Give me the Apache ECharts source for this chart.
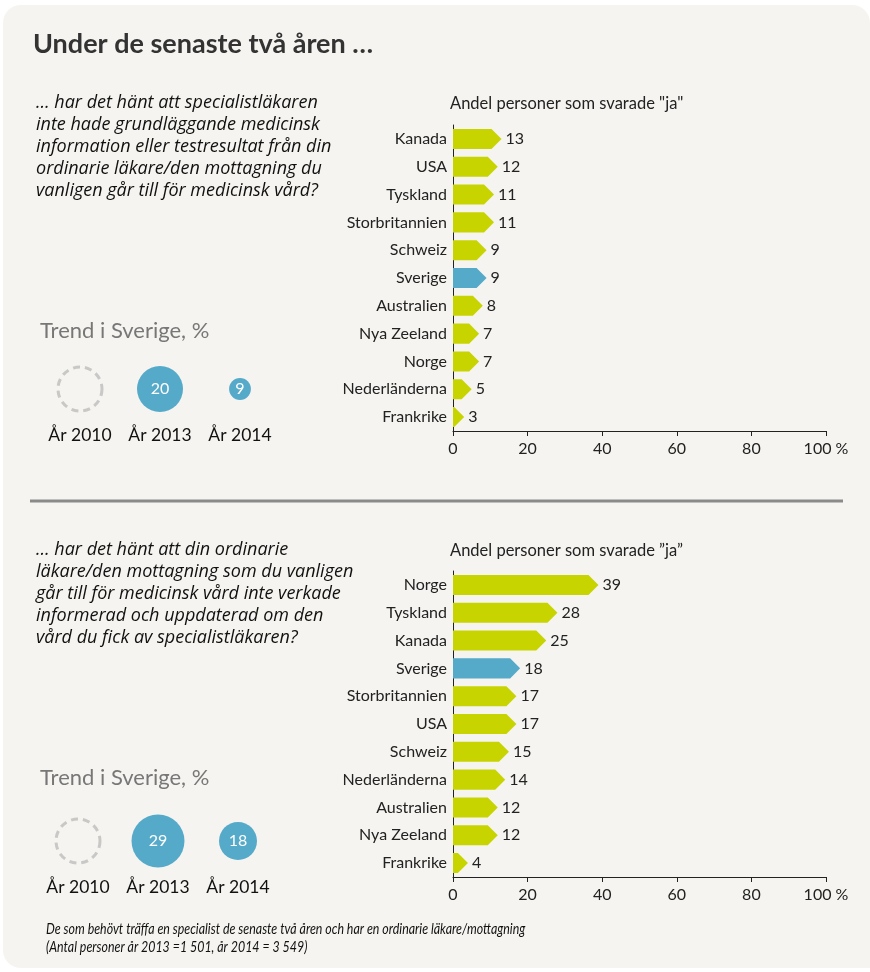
<!DOCTYPE html>
<html><head><meta charset="utf-8">
<script src="https://cdn.jsdelivr.net/npm/echarts@6/dist/echarts.min.js"></script>
<style>html,body{margin:0;padding:0;background:#fff}#c{width:870px;height:972px}</style>
</head><body><div id="c"></div>
<script>
const categories1 = ['Kanada','USA','Tyskland','Storbritannien','Schweiz','Sverige','Australien','Nya Zeeland','Norge','Nederländerna','Frankrike'];
const values1 = [13,12,11,11,9,9,8,7,7,5,3];
const categories2 = ['Norge','Tyskland','Kanada','Sverige','Storbritannien','USA','Schweiz','Nederländerna','Australien','Nya Zeeland','Frankrike'];
const values2 = [39,28,25,18,17,17,15,14,12,12,4];
const trendYears = ['År 2010','År 2013','År 2014'];
const trend1 = [null,20,9];
const trend2 = [null,29,18];
const xTicks = [0,20,40,60,80,100];

const FONT = 'Lato, "Noto Sans", sans-serif';
const GREEN = '#c8d400', BLUE = '#55a9c9';

function arrowRenderer(cats){
  return function(params, api){
    const v = api.value(0), idx = api.value(1);
    const p0 = api.coord([0, idx]);
    const p1 = api.coord([v, idx]);
    const band = api.size([0,1])[1];
    const h = band*0.72;
    const x0 = p0[0], xv = p1[0], y = p1[1];
    const head = Math.min(h/2, xv - x0);
    const color = cats[idx]==='Sverige' ? BLUE : GREEN;
    return {type:'group', children:[
      {type:'polygon', shape:{points:[[x0,y-h/2],[xv-head,y-h/2],[xv,y],[xv-head,y+h/2],[x0,y+h/2]]}, style:{fill:color}},
      {type:'text', style:{text:String(v), x:xv+4, y:y, verticalAlign:'middle', fontSize:16, fontFamily:FONT, fill:'#222'}}
    ]};
  };
}

function xAxisDef(gi){
  return {gridIndex:gi, type:'value', min:0, max:100, interval:20,
    axisLine:{show:true, lineStyle:{color:'#222', width:1}},
    axisTick:{show:true, length:5, lineStyle:{color:'#222'}},
    splitLine:{show:false},
    axisLabel:{fontSize:16, fontFamily:FONT, color:'#222', margin:10,
      formatter: v => v===100 ? '100 %' : String(v)}};
}
function yAxisDef(gi, cats){
  return {gridIndex:gi, type:'category', data:cats, inverse:true,
    axisLine:{show:true, lineStyle:{color:'#222'}}, axisTick:{show:false},
    axisLabel:{fontSize:16, fontFamily:FONT, color:'#222', margin:6, interval:0}};
}
function trendX(gi){
  return {gridIndex:gi, type:'category', data:trendYears, boundaryGap:true,
    axisLine:{show:false}, axisTick:{show:false},
    axisLabel:{fontSize:17.5, fontFamily:FONT, color:'#111', margin:8, interval:0, hideOverlap:false}};
}
function trendY(gi){
  return {gridIndex:gi, type:'value', min:0, max:1, show:false};
}
function trendSeries(gi, vals, a, b){
  return [
    {type:'scatter', xAxisIndex:gi, yAxisIndex:gi, silent:true,
      data: vals.map((v,i)=> v==null ? [trendYears[i],0.5] : null).filter(d=>d),
      symbolSize: 44,
      itemStyle:{color:'rgba(0,0,0,0)', borderColor:'#bdbdbd', borderWidth:3, borderType:[7,5]}},
    {type:'scatter', xAxisIndex:gi, yAxisIndex:gi, silent:true,
      data: vals.map((v,i)=> v==null ? null : {value:[trendYears[i],0.5], v:v}).filter(d=>d),
      symbolSize: (val, p) => a*p.data.v + b,
      itemStyle:{color:BLUE, opacity:1},
      label:{show:true, position:'inside', color:'#fff', fontSize:16, fontFamily:FONT,
        formatter: p => String(p.data.v)}}
  ];
}

const chart = echarts.init(document.getElementById('c'), null, {renderer:'canvas'});
const italic = {fontStyle:'italic', fontSize:18, fontFamily:'"Open Sans", Lato, sans-serif', fill:'#111', lineHeight:22};
chart.setOption({
  backgroundColor:'#fff',
  animation:false,
  graphic:[
    {type:'rect', z:-10, shape:{x:3,y:5,width:867,height:963,r:[18,18,0,18]}, style:{fill:'#f5f4f0'}},
    {type:'text', left:33, top:31, style:{text:'Under de senaste två åren …', fontSize:27, fontWeight:'bold', fontFamily:FONT, fill:'#333'}},
    {type:'text', left:36, top:92, style:Object.assign({text:'… har det hänt att specialistläkaren\ninte hade grundläggande medicinsk\ninformation eller testresultat från din\nordinarie läkare/den mottagning du\nvanligen går till för medicinsk vård?'}, italic)},
    {type:'text', left:36, top:539, style:Object.assign({text:'… har det hänt att din ordinarie\nläkare/den mottagning som du vanligen\ngår till för medicinsk vård inte verkade\ninformerad och uppdaterad om den\nvård du fick av specialistläkaren?'}, italic)},
    {type:'text', left:450, top:95, style:{text:'Andel personer som svarade "ja"', fontSize:16.5, fontFamily:FONT, fill:'#222'}},
    {type:'text', left:450, top:542, style:{text:'Andel personer som svarade ”ja”', fontSize:16.5, fontFamily:FONT, fill:'#222'}},
    {type:'text', left:40, top:320, style:{text:'Trend i Sverige, %', fontSize:22, fontFamily:FONT, fill:'#777'}},
    {type:'text', left:40, top:767, style:{text:'Trend i Sverige, %', fontSize:22, fontFamily:FONT, fill:'#777'}},
    {type:'line', shape:{x1:30,y1:501,x2:843,y2:501}, style:{stroke:'#8a8a8a', lineWidth:3}},
    {type:'text', x:46, y:920, scaleX:0.8, originX:0, style:{text:'De som behövt träffa en specialist de senaste två åren och har en ordinarie läkare/mottagning\n(Antal personer år 2013 =1 501, år 2014 = 3 549)', fontStyle:'italic', fontSize:15.5, lineHeight:18, fontFamily:FONT, fill:'#111'}}
  ],
  grid:[
    {left:453, top:125, width:373, height:306},
    {left:453, top:571, width:373, height:306},
    {left:40, top:360, width:240, height:58},
    {left:38, top:812, width:240, height:58}
  ],
  xAxis:[xAxisDef(0), xAxisDef(1), trendX(2), trendX(3)],
  yAxis:[yAxisDef(0, categories1), yAxisDef(1, categories2), trendY(2), trendY(3)],
  series:[
    {type:'custom', xAxisIndex:0, yAxisIndex:0, renderItem:arrowRenderer(categories1),
      encode:{x:0,y:1}, data: values1.map((v,i)=>[v,i])},
    {type:'custom', xAxisIndex:1, yAxisIndex:1, renderItem:arrowRenderer(categories2),
      encode:{x:0,y:1}, data: values2.map((v,i)=>[v,i])},
    ...trendSeries(2, trend1, 2.2, 2),
    ...trendSeries(3, trend2, 1.36, 13.5)
  ]
});
</script></body></html>
